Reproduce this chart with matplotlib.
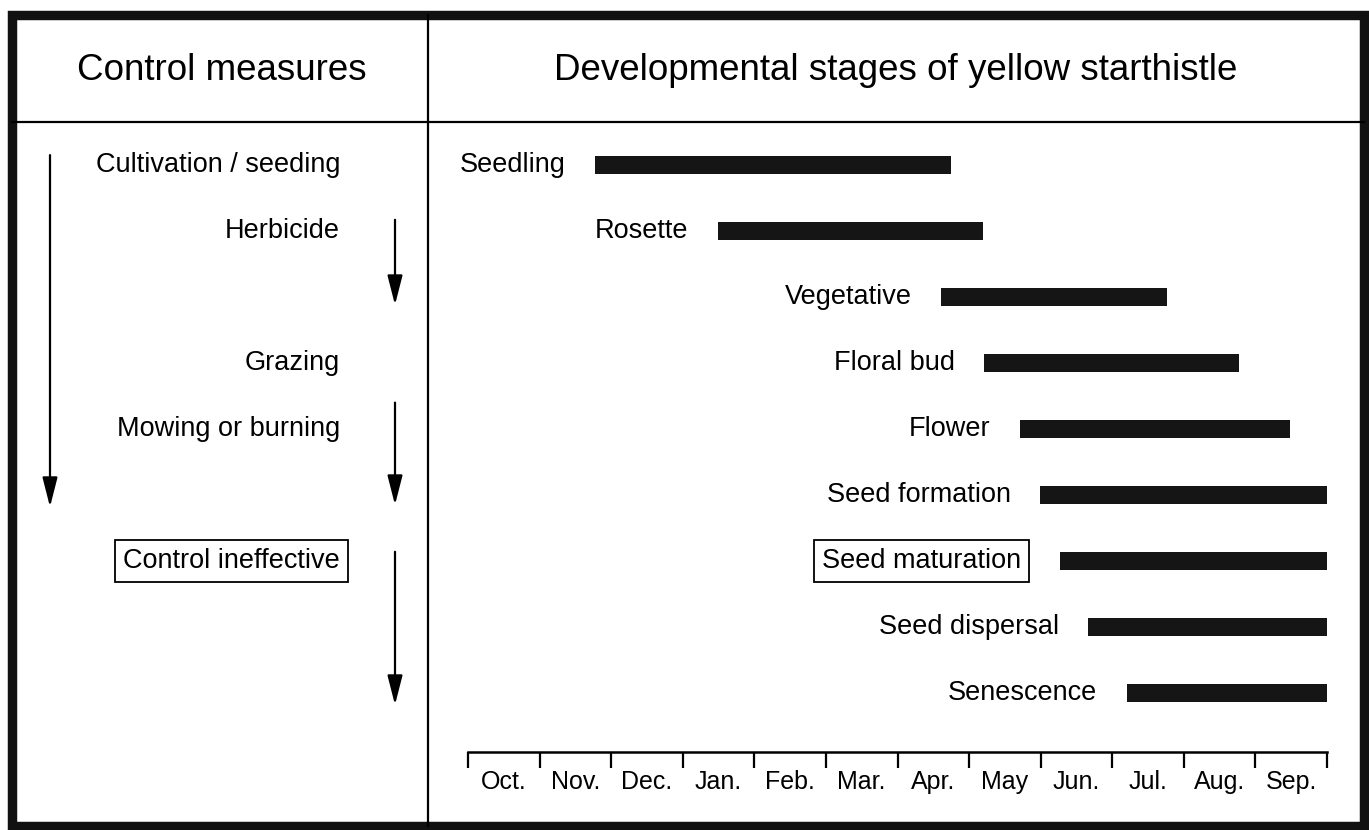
import matplotlib
matplotlib.use("Agg")
import matplotlib.pyplot as plt
from matplotlib.lines import Line2D
from matplotlib.patches import Rectangle

plt.rcParams["font.family"] = ["Liberation Sans", "DejaVu Sans"]

# -- Data ---------------------------------------------------------------------

months = ["Oct.", "Nov.", "Dec.", "Jan.", "Feb.", "Mar.",
          "Apr.", "May", "Jun.", "Jul.", "Aug.", "Sep."]

stages = ["Seedling", "Rosette", "Vegetative", "Floral bud", "Flower",
          "Seed formation", "Seed maturation", "Seed dispersal", "Senescence"]
# months since start of October
stage_start = [1.77, 3.49, 6.61, 7.21, 7.71, 7.99, 8.27, 8.66, 9.20]
stage_end = [6.75, 7.19, 9.76, 10.77, 11.48, 12.0, 12.0, 12.0, 12.0]
boxed_stage = "Seed maturation"

measures = ["Cultivation / seeding", "Herbicide", "Grazing",
            "Mowing or burning", "Control ineffective"]
measure_rows = [0, 1, 3, 4, 6]
boxed_measure = "Control ineffective"

# arrows in the control column: which side, first row, last row
arrow_side = ["left", "right", "right", "right"]
arrow_from = [-0.15, 0.83, 3.60, 5.86]
arrow_to = [5.18, 2.12, 5.15, 8.18]

# -- Layout (pixels) ----------------------------------------------------------

W, H, DPI = 1369, 830, 100
ROW0, ROW_STEP = 165, 66       # pixel y of first row, spacing
TOP, AXIS_Y = 130, 752         # body top, month axis line
X0, X1 = 468, 1327             # Oct. start, Sep. end
DIV_X, HEAD_Y = 428, 122
FRAME = (12.5, 15, 1364, 826)  # outer border centre line: left, top, right, bottom


def frac(x0, y0, x1, y1):
    return [x0 / W, 1 - y1 / H, (x1 - x0) / W, (y1 - y0) / H]


ylim = ((AXIS_Y - ROW0) / ROW_STEP, -(ROW0 - TOP) / ROW_STEP)

fig = plt.figure(figsize=(W / DPI, H / DPI), dpi=DPI)

# -- Timeline -----------------------------------------------------------------

ax = fig.add_axes(frac(X0, TOP, X1, AXIS_Y))
rows = list(range(len(stages)))
widths = [e - s for s, e in zip(stage_start, stage_end)]
ax.barh(rows, widths, left=stage_start, height=0.27, color="#151515")

for r, name, s in zip(rows, stages, stage_start):
    if name == boxed_stage:
        ax.annotate(name, (s, r), xytext=(-28, 0), textcoords="offset points",
                    ha="right", va="center", fontsize=19.5,
                    bbox=dict(boxstyle="square,pad=0.3", fc="white",
                              ec="black", lw=1.3))
    else:
        ax.annotate(name, (s, r), xytext=(-21, 0), textcoords="offset points",
                    ha="right", va="center", fontsize=19.5)

ax.set_xlim(0, len(months))
ax.set_ylim(*ylim)
for side in ["top", "left", "right"]:
    ax.spines[side].set_visible(False)
ax.spines["bottom"].set_linewidth(1.8)
ax.set_yticks([])
ax.set_xticks(range(len(months) + 1))
ax.set_xticklabels([])
ax.set_xticks([i + 0.5 for i in range(len(months))], minor=True)
ax.set_xticklabels(months, minor=True)
ax.tick_params(axis="x", which="major", direction="out", length=11.5, width=1.6)
ax.tick_params(axis="x", which="minor", length=0, pad=13, labelsize=18)
ax.patch.set_alpha(0)

# -- Control measures column --------------------------------------------------

axl = fig.add_axes(frac(18, TOP, DIV_X, AXIS_Y))
axl.set_xlim(18, DIV_X)
axl.set_ylim(*ylim)
axl.axis("off")

for name, r in zip(measures, measure_rows):
    kw = {}
    if name == boxed_measure:
        kw["bbox"] = dict(boxstyle="square,pad=0.3", fc="white", ec="black", lw=1.3)
    axl.text(340, r, name, ha="right", va="center", fontsize=19.5, **kw)

for side, a, b in zip(arrow_side, arrow_from, arrow_to):
    x = 50 if side == "left" else 395
    axl.annotate("", xy=(x, b), xytext=(x, a),
                 arrowprops=dict(arrowstyle="-|>,head_length=0.9,head_width=0.23",
                                 mutation_scale=20, lw=1.6, color="black",
                                 shrinkA=0, shrinkB=0))

# -- Headers and frame --------------------------------------------------------

fig.text(222 / W, 1 - 70 / H, "Control measures", ha="center", va="center",
         fontsize=26.5)
fig.text((DIV_X + FRAME[2]) / 2 / W, 1 - 70 / H,
         "Developmental stages of yellow starthistle",
         ha="center", va="center", fontsize=26.5)

fl, ft, fr, fb = FRAME
fig.add_artist(Line2D([fl / W, fr / W], [1 - HEAD_Y / H] * 2,
                      transform=fig.transFigure, color="black", lw=1.6))
fig.add_artist(Line2D([DIV_X / W] * 2, [1 - fb / H, 1 - ft / H],
                      transform=fig.transFigure, color="black", lw=1.6))
fig.add_artist(Rectangle((fl / W, 1 - fb / H), (fr - fl) / W, (fb - ft) / H,
                         transform=fig.transFigure, fill=False,
                         ec="#111111", lw=6.8))

fig.savefig("out.png", dpi=DPI)
